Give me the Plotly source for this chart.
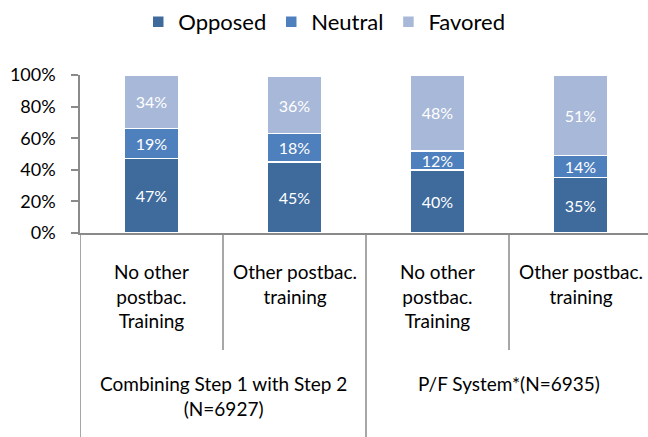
import plotly.graph_objects as go

# Survey responses (%) by training background, within each policy proposal
groups = ["Combining Step 1 with Step 2<br>(N=6927)", "P/F System*(N=6935)"]
subcategories = [
    "No other<br>postbac.<br>Training",
    "Other postbac.<br>training",
    "No other<br>postbac.<br>Training",
    "Other postbac.<br>training",
]
opposed = [47, 45, 40, 35]
neutral = [19, 18, 12, 14]
favored = [34, 36, 48, 51]
y_ticks = [0, 20, 40, 60, 80, 100]
y_tick_labels = ["0%", "20%", "40%", "60%", "80%", "100%"]

series = [
    ("Opposed", opposed, "#3E6A9C"),
    ("Neutral", neutral, "#4E80BE"),
    ("Favored", favored, "#A8B8D8"),
]

FONT = "Lato"
W, H = 648, 437
L, T, B = 80, 75, 204
PLOT_H = H - T - B
AXIS_COLOR = "#8A8A8A"

x = list(range(len(subcategories)))


def paper_y(px):
    """Convert a pixel row (from top) to paper y."""
    return (H - B - px) / PLOT_H


fig = go.Figure()
for name, vals, color in series:
    fig.add_trace(go.Bar(
        x=x, y=vals, name=name,
        marker=dict(color=color, line=dict(color="white", width=1.5)),
        width=0.385,
        text=vals, texttemplate="%{text}%",
        textposition="inside", insidetextanchor="middle",
        textangle=0, constraintext="none",
        textfont=dict(color="white", size=16, family=FONT),
        hoverinfo="skip",
    ))

# Inner category labels and dividers
shapes = []
annotations = []
for i, lab in enumerate(subcategories):
    annotations.append(dict(
        x=i, xref="x", y=paper_y(258), yref="paper", yanchor="top",
        text=lab, showarrow=False, align="center",
        font=dict(size=19, family=FONT, color="black"),
    ))

per_group = len(subcategories) // len(groups)
for g, lab in enumerate(groups):
    first = g * per_group
    center = first + (per_group - 1) / 2
    annotations.append(dict(
        x=center, xref="x", y=paper_y(370), yref="paper", yanchor="top",
        text=lab, showarrow=False, align="center",
        font=dict(size=19, family=FONT, color="black"),
    ))

for i in range(len(subcategories) + 1):
    edge = i - 0.5
    is_group_edge = i % per_group == 0
    shapes.append(dict(
        type="line", xref="x", yref="paper",
        x0=edge, x1=edge, y0=0, y1=paper_y(H if is_group_edge else 350),
        line=dict(color=AXIS_COLOR, width=1.5),
    ))

fig.update_layout(
    width=W, height=H,
    margin=dict(l=L, r=0, t=T, b=B, pad=0),
    paper_bgcolor="white", plot_bgcolor="white",
    barmode="stack", bargap=0.6,
    font=dict(family=FONT, color="black"),
    showlegend=True,
    legend=dict(
        orientation="h", x=0.43, xanchor="center",
        y=paper_y(22), yanchor="middle",
        font=dict(size=22, family=FONT, color="black"),
        itemwidth=30, tracegroupgap=0, traceorder="normal",
    ),
    shapes=shapes,
    annotations=annotations,
)
fig.update_xaxes(
    range=[-0.5, 3.5 - 4 * (1 - 568 / (4 * 143))],
    showline=True, linecolor=AXIS_COLOR, linewidth=1.5,
    showticklabels=False, ticks="", showgrid=False, zeroline=False,
    fixedrange=True,
)
fig.update_yaxes(
    range=[0, 100], tickmode="array", tickvals=y_ticks, ticktext=y_tick_labels,
    showline=True, linecolor=AXIS_COLOR, linewidth=1.5,
    ticks="outside", ticklen=7, tickcolor=AXIS_COLOR, tickwidth=1.5,
    ticklabelstandoff=12,
    tickfont=dict(size=18, family=FONT, color="black"),
    showgrid=False, zeroline=False, fixedrange=True,
)

fig.write_html("out.html", config={"displayModeBar": False})
